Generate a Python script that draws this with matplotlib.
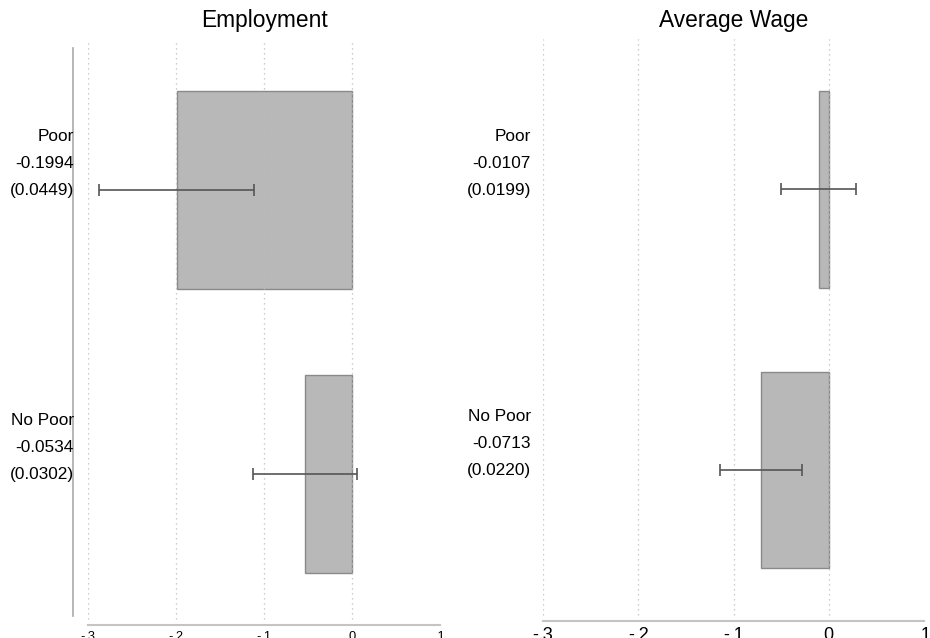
import numpy as np
import matplotlib
matplotlib.use("Agg")
from matplotlib import pyplot as plt

plt.rcParams['font.family'] = ['Liberation Sans', 'DejaVu Sans']

# estimates and standard errors by group
groups = ["Poor", "No Poor"]
emp_coef = [-0.1994, -0.0534]
emp_se = [0.0449, 0.0302]
wage_coef = [-0.0107, -0.0713]
wage_se = [0.0199, 0.0220]

xticks = [-0.3, -0.2, -0.1, 0, 0.1]
xticklabels = ["-.3", "-.2", "-.1", "0", ".1"]

ypos = np.array([1, 0])
z = 1.96

fig = plt.figure(figsize=(9.30, 6.38), dpi=100)
W, H = 930, 638

def add_ax(x0, x1, ytop, ybot):
    return fig.add_axes([x0 / W, 1 - ybot / H, (x1 - x0) / W, (ybot - ytop) / H])

ax1 = add_ax(88, 440, 40, 625)
ax2 = add_ax(543, 924, 39, 621)

panels = [
    (ax1, emp_coef, emp_se, "Employment", 9.3, (-0.532, 1.528), -14),
    (ax2, wage_coef, wage_se, "Average Wage", 13, (-0.539, 1.536), -12),
]

for ax, coef, se, title, tfs, ylim, lab_dx in panels:
    coef = np.array(coef)
    se = np.array(se)
    ax.barh(ypos, coef, height=0.7, color="#b8b8b8", edgecolor="#8a8a8a",
            linewidth=1.0, zorder=2)
    ax.errorbar(coef, ypos, xerr=z * se, fmt="none", ecolor="#555555",
                elinewidth=1.2, capsize=4, capthick=1.2, zorder=4)
    for x in xticks[:-1]:
        ax.axvline(x, ymin=0.01, ymax=1, color="#bdbdbd", lw=0.9,
                   ls=(0, (1, 3)), zorder=3)
    ax.set_xlim(-0.3, 0.1)
    ax.set_ylim(*ylim)
    ax.set_xticks(xticks)
    ax.set_xticklabels(xticklabels, fontsize=tfs)
    ax.tick_params(axis="x", length=0, pad=4, colors="#000000")
    ax.set_yticks([])
    for s in ["top", "right"]:
        ax.spines[s].set_visible(False)
    ax.spines["bottom"].set_color("#c4c4c4")
    ax.spines["bottom"].set_linewidth(1.5)

    # group name, estimate and (se) stacked to the left of each bar
    for g, c, s, y in zip(groups, coef, se, ypos):
        ax.annotate(f"{g}\n{c:.4f}\n({s:.4f})", xy=(0, y),
                    xycoords=ax.get_yaxis_transform(),
                    xytext=(lab_dx, 26), textcoords="offset pixels",
                    ha="right", va="center", fontsize=12.4, linespacing=2.0)

    bb = ax.get_position()
    fig.text((bb.x0 + bb.x1) / 2, 1 - 20 / H, title, ha="center",
             va="center", fontsize=16.4)

ax1.spines["left"].set_position(("outward", 11))
ax1.spines["left"].set_bounds(-0.5, 1.5)
ax1.spines["left"].set_color("#aaaaaa")
ax1.spines["left"].set_linewidth(1.2)
ax2.spines["left"].set_visible(False)

fig.savefig("out.png", dpi=100)
